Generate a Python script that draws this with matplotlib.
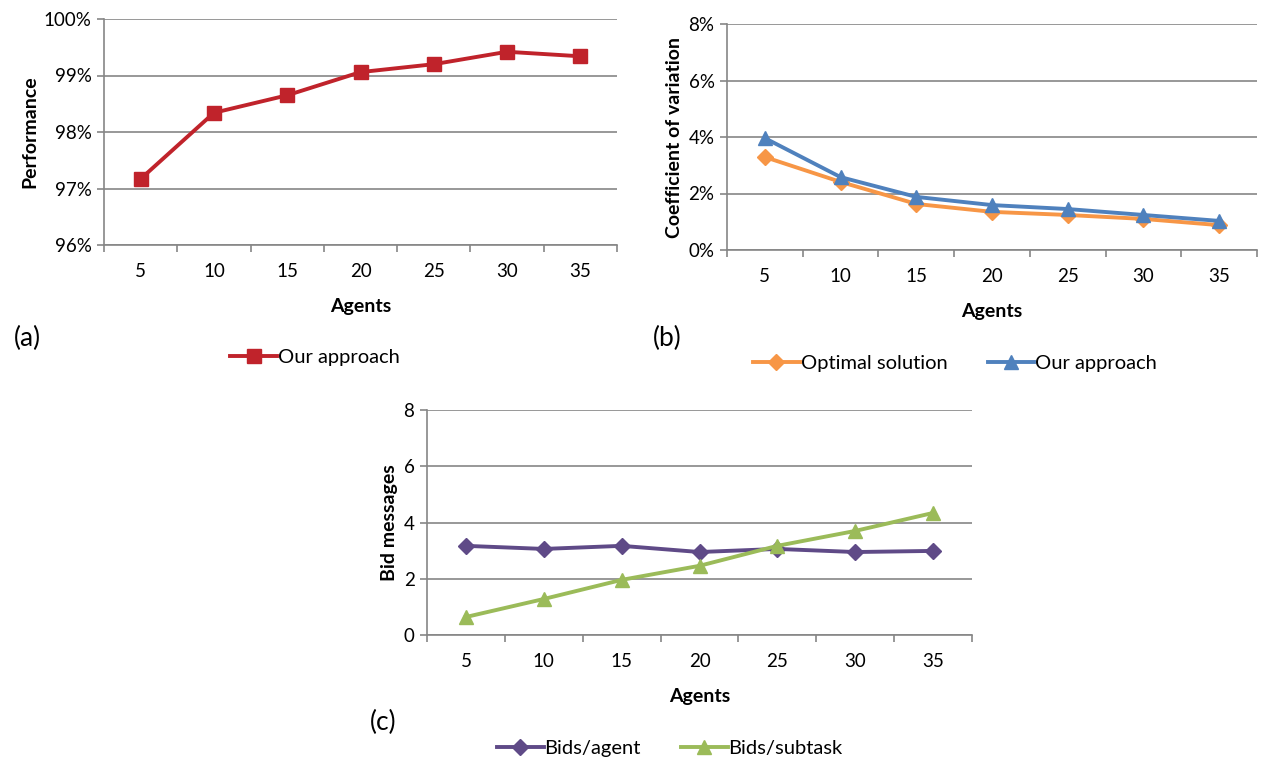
import numpy as np
import matplotlib
matplotlib.use("Agg")
import matplotlib.pyplot as plt
from matplotlib.ticker import FuncFormatter, FixedLocator

plt.rcParams["font.family"] = ["Lato", "DejaVu Sans"]

# Data
agents = ["5", "10", "15", "20", "25", "30", "35"]
perf_ours = [97.17, 98.34, 98.65, 99.06, 99.20, 99.42, 99.34]
cv_optimal = [3.29, 2.41, 1.63, 1.35, 1.24, 1.10, 0.88]
cv_ours = [3.96, 2.58, 1.88, 1.59, 1.45, 1.24, 1.03]
bids_agent = [3.17, 3.06, 3.17, 2.95, 3.06, 2.95, 2.99]
bids_subtask = [0.64, 1.28, 1.96, 2.46, 3.17, 3.70, 4.34]

W, H = 1263, 760
fig = plt.figure(figsize=(W / 100, H / 100), dpi=100)

GRID = "#868686"


def px_axes(left, top, right, bottom):
    return fig.add_axes([left / W, 1 - bottom / H, (right - left) / W, (bottom - top) / H])


def style(ax, ylim, yticks, fmt, ylabel):
    x = np.arange(len(agents))
    ax.set_xlim(-0.5, len(agents) - 0.5)
    ax.set_ylim(*ylim)
    ax.set_yticks(yticks)
    ax.yaxis.set_major_formatter(FuncFormatter(fmt))
    ax.set_xticks(x)
    ax.set_xticklabels(agents)
    ax.xaxis.set_minor_locator(FixedLocator(np.arange(-0.5, len(agents), 1.0)))
    ax.tick_params(axis="x", which="major", length=0, pad=13, labelsize=13.5)
    ax.tick_params(axis="x", which="minor", length=5, color=GRID, width=1.2)
    ax.tick_params(axis="y", length=5, color=GRID, width=1.2, labelsize=13.5, pad=4)
    ax.grid(axis="y", color=GRID, linewidth=1.2)
    ax.set_axisbelow(True)
    for s in ["top", "right"]:
        ax.spines[s].set_visible(False)
    for s in ["left", "bottom"]:
        ax.spines[s].set_color(GRID)
        ax.spines[s].set_linewidth(1.2)
    ax.set_xlabel("Agents", fontsize=14, fontweight="bold", labelpad=13)
    ax.set_ylabel(ylabel, fontsize=14, fontweight="bold", labelpad=4)
    return x


def leg(ax, cx, cy, ncol):
    ax.legend(loc="center", bbox_to_anchor=(cx / W, 1 - cy / H),
              bbox_transform=fig.transFigure, ncol=ncol, frameon=False,
              fontsize=14.5, handlelength=2.3, handletextpad=0.05,
              columnspacing=2.0)


# (a)
ax1 = px_axes(104, 19, 617, 245)
x = style(ax1, (96, 100), [96, 97, 98, 99, 100], lambda v, p: f"{v:.0f}%", "Performance")
ax1.plot(x, perf_ours, color="#C0232B", lw=2.8, marker="s", markersize=10.5,
         label="Our approach")
leg(ax1, 315, 357, 1)
fig.text(27 / W, 1 - 338 / H, "(a)", fontsize=19, ha="center", va="center")

# (b)
ax2 = px_axes(727, 24, 1257, 250)
x = style(ax2, (0, 8), [0, 2, 4, 6, 8], lambda v, p: f"{v:.0f}%", "Coefficient of variation")
ax2.plot(x, cv_optimal, color="#F79646", lw=2.8, marker="D", markersize=8.5,
         label="Optimal solution")
ax2.plot(x, cv_ours, color="#4F81BD", lw=2.8, marker="^", markersize=10.5,
         label="Our approach")
leg(ax2, 955, 363, 2)
fig.text(667 / W, 1 - 338 / H, "(b)", fontsize=19, ha="center", va="center")

# (c)
ax3 = px_axes(427, 410, 972, 635)
x = style(ax3, (0, 8), [0, 2, 4, 6, 8], lambda v, p: f"{v:.0f}", "Bid messages")
ax3.plot(x, bids_agent, color="#5F4A87", lw=2.8, marker="D", markersize=8.5,
         label="Bids/agent")
ax3.plot(x, bids_subtask, color="#9BBB59", lw=2.8, marker="^", markersize=10.5,
         label="Bids/subtask")
leg(ax3, 670, 748, 2)
fig.text(383 / W, 1 - 722 / H, "(c)", fontsize=19, ha="center", va="center")

fig.savefig("out.png", dpi=100)
